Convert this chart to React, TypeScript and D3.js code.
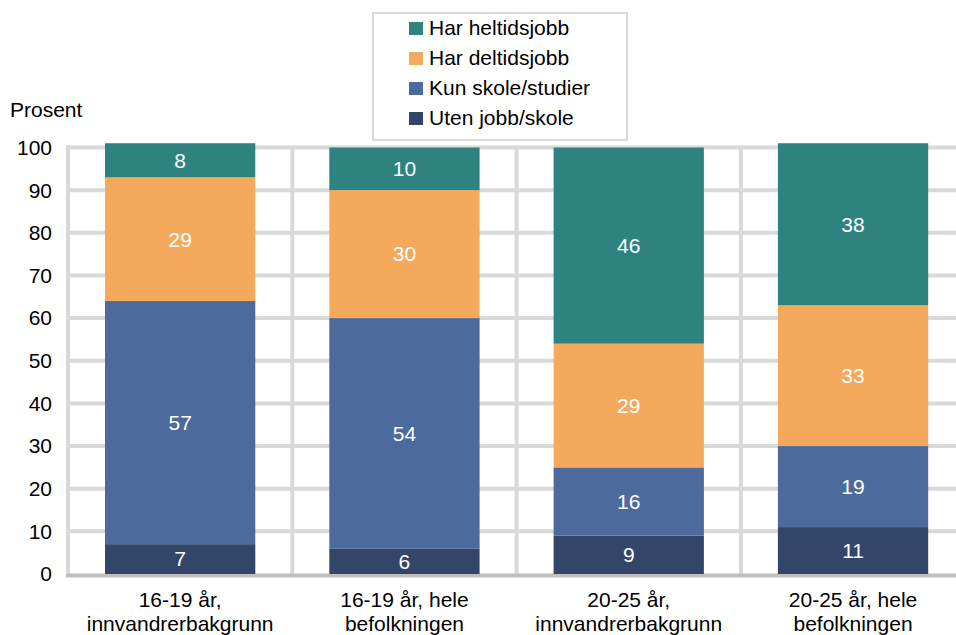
import React from "react";
import * as d3 from "d3";

const categories = [
  ["16-19 år,", "innvandrerbakgrunn"],
  ["16-19 år, hele", "befolkningen"],
  ["20-25 år,", "innvandrerbakgrunn"],
  ["20-25 år, hele", "befolkningen"],
];
const seriesNames = ["Uten jobb/skole", "Kun skole/studier", "Har deltidsjobb", "Har heltidsjobb"];
const utenJobb = [7, 6, 9, 11];
const kunSkole = [57, 54, 16, 19];
const deltid = [29, 30, 29, 33];
const heltid = [8, 10, 46, 38];
const colors = ["#33466a", "#4c6a9c", "#f5a95d", "#2e8380"];
const yTicks = [0, 10, 20, 30, 40, 50, 60, 70, 80, 90, 100];
const legendOrder = [3, 2, 1, 0];

export default function App() {
  const W = 956, H = 635;
  const left = 68, bandW = 224.3;
  const x = d3.scaleBand<number>().domain([0, 1, 2, 3]).range([left, left + 4 * bandW]).paddingInner(0.33).paddingOuter(0.165);
  const y = d3.scaleLinear().domain([0, 100]).range([574, 147.5]);
  const values = [utenJobb, kunSkole, deltid, heltid];
  const rows = categories.map((_, i) => {
    const r: any = { i };
    seriesNames.forEach((s, k) => (r[s] = values[k][i]));
    return r;
  });
  const stacked = d3.stack<any>().keys(seriesNames)(rows);
  const font = "Liberation Sans, Arial, sans-serif";
  const grid = "#d9d9d9";
  return (
    <svg width={W} height={H} style={{ position: "absolute", left: 0, top: 0, background: "#fff" }} fontFamily={font}>
      {/* horizontal gridlines */}
      {yTicks.filter((t) => t > 0).map((t) => (
        <line key={"h" + t} x1={66} x2={W} y1={y(t)} y2={y(t)} stroke={grid} strokeWidth={4} />
      ))}
      {/* vertical gridlines */}
      {[0, 1, 2, 3, 4].map((k) => (
        <line key={"v" + k} x1={left + k * bandW} x2={left + k * bandW} y1={145.5} y2={575} stroke={grid} strokeWidth={4} />
      ))}
      {/* x axis */}
      <line x1={66} x2={W} y1={575.5} y2={575.5} stroke="#bfbfbf" strokeWidth={4} />
      {/* bars */}
      {stacked.map((s, k) => (
        <g key={s.key} fill={colors[k]}>
          {s.map((d, i) => (
            <rect key={i} x={x(i)} width={x.bandwidth()} y={y(d[1])} height={y(d[0]) - y(d[1])} />
          ))}
        </g>
      ))}
      {/* value labels */}
      {stacked.map((s, k) => (
        <g key={"l" + s.key}>
          {s.map((d, i) => (
            <text key={i} x={(x(i) as number) + x.bandwidth() / 2} y={y((d[0] + d[1]) / 2)} dy="0.35em" textAnchor="middle" fill="#fff" fontSize={21}>
              {d[1] - d[0]}
            </text>
          ))}
        </g>
      ))}
      {/* y tick labels */}
      {yTicks.map((t) => (
        <text key={"t" + t} x={52} y={y(t)} dy="0.35em" textAnchor="end" fontSize={21} fill="#000">
          {t}
        </text>
      ))}
      <text x={10} y={117} fontSize={21} fill="#000">Prosent</text>
      {/* category labels */}
      {categories.map((c, i) => (
        <text key={"c" + i} x={(x(i) as number) + x.bandwidth() / 2} textAnchor="middle" fontSize={21} fill="#000">
          <tspan x={(x(i) as number) + x.bandwidth() / 2} y={607}>{c[0]}</tspan>
          <tspan x={(x(i) as number) + x.bandwidth() / 2} y={631}>{c[1]}</tspan>
        </text>
      ))}
      {/* legend */}
      <rect x={373} y={13} width={254} height={127} fill="#fff" stroke={grid} strokeWidth={2} />
      {legendOrder.map((k, j) => (
        <g key={"lg" + k}>
          <rect x={409} y={22 + j * 30} width={14} height={13} fill={colors[k]} />
          <text x={429} y={35 + j * 30} fontSize={21} fill="#000">{seriesNames[k]}</text>
        </g>
      ))}
    </svg>
  );
}
